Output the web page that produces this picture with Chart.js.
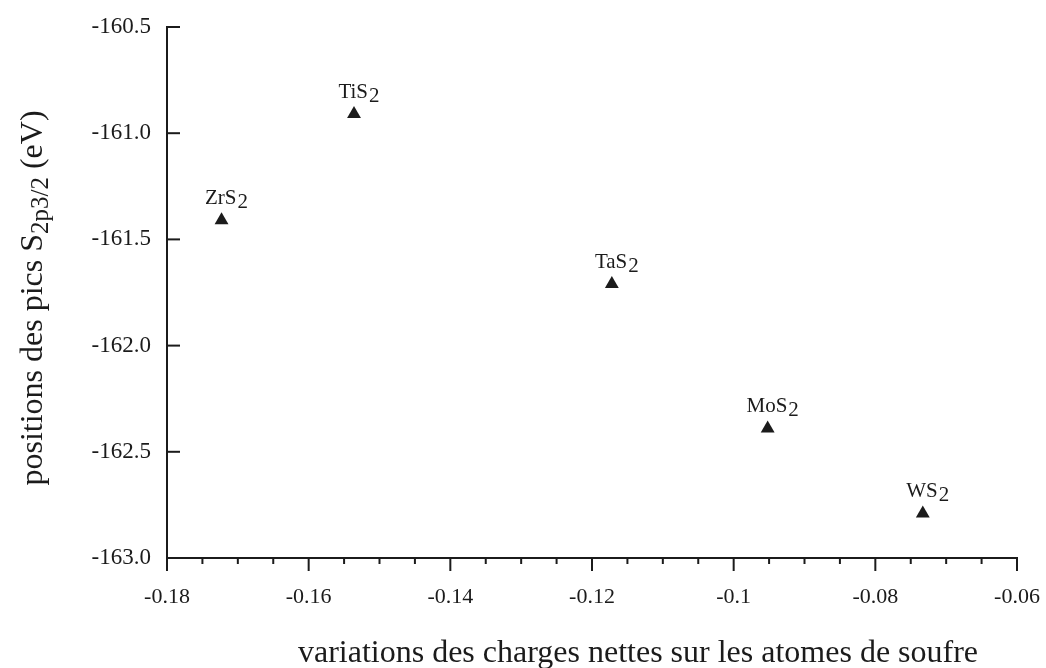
<!DOCTYPE html>
<html>
<head>
<meta charset="utf-8">
<script src="https://cdn.jsdelivr.net/npm/chart.js@4.4.1/dist/chart.umd.min.js"></script>
<style>
  html, body { margin: 0; padding: 0; background: #ffffff; }
  #wrap { width: 1046px; height: 668px; position: relative; }
</style>
</head>
<body>
<div id="wrap"><canvas id="c" width="1046" height="668"></canvas></div>
<script>
// ---- data ----
const compoundBase = ['TiS', 'ZrS', 'TaS', 'MoS', 'WS'];
const compoundSub = ['2', '2', '2', '2', '2'];
const chargeVariation = [-0.1536, -0.1723, -0.1172, -0.0952, -0.0733];
const peakPosition = [-160.91, -161.41, -161.71, -162.39, -162.79];

const xTickValues = [-0.18, -0.16, -0.14, -0.12, -0.10, -0.08, -0.06];
const xTickLabels = ['-0.18', '-0.16', '-0.14', '-0.12', '-0.1', '-0.08', '-0.06'];
const xMinorStep = 0.005;
const yTickValues = [-160.5, -161.0, -161.5, -162.0, -162.5, -163.0];
const yTickLabels = ['-160.5', '-161.0', '-161.5', '-162.0', '-162.5', '-163.0'];

const xTitle = 'variations des charges nettes sur les atomes de soufre';
const yTitleMain = 'positions des pics S';
const yTitleSub = '2p3/2';
const yTitleEnd = ' (eV)';

const SERIF = '"Liberation Serif", "Times New Roman", "DejaVu Serif", serif';
const INK = '#1b1b1b';

const drawPlugin = {
  id: 'paperAxes',
  beforeDraw(chart) {
    const ctx = chart.ctx;
    ctx.save();
    ctx.fillStyle = '#ffffff';
    ctx.fillRect(0, 0, chart.width, chart.height);
    ctx.restore();
  },
  afterDraw(chart) {
    const ctx = chart.ctx;
    const xs = chart.scales.x, ys = chart.scales.y;
    const x0 = xs.getPixelForValue(xs.min), x1 = xs.getPixelForValue(xs.max);
    const y0 = ys.getPixelForValue(ys.min), y1 = ys.getPixelForValue(ys.max);
    ctx.save();
    ctx.strokeStyle = INK;
    ctx.lineWidth = 2;
    ctx.lineCap = 'square';
    // axis lines
    ctx.beginPath();
    ctx.moveTo(x0, y1); ctx.lineTo(x0, y0); ctx.lineTo(x1, y0);
    ctx.stroke();
    // y ticks (inward)
    ctx.lineCap = 'butt';
    yTickValues.forEach(v => {
      const p = ys.getPixelForValue(v);
      ctx.beginPath(); ctx.moveTo(x0, p); ctx.lineTo(x0 + 13, p); ctx.stroke();
    });
    // x ticks (outward), major and minor
    const n = Math.round((xs.max - xs.min) / xMinorStep);
    for (let i = 0; i <= n; i++) {
      const v = xs.min + i * xMinorStep;
      const p = xs.getPixelForValue(v);
      const len = (i % 4 === 0) ? 13 : 6;
      ctx.beginPath(); ctx.moveTo(p, y0); ctx.lineTo(p, y0 + len); ctx.stroke();
    }
    // point labels with subscripts
    const meta = chart.getDatasetMeta(0);
    const fLab = '21px ' + SERIF;
    meta.data.forEach((pt, i) => {
      const base = compoundBase[i], sub = compoundSub[i];
      ctx.font = fLab;
      const wb = ctx.measureText(base).width;
      const ws = ctx.measureText(sub).width;
      const total = wb + ws + 1;
      const left = pt.x + 5 - total / 2;
      const baseY = pt.y - 16;
      ctx.fillStyle = INK;
      ctx.textAlign = 'left';
      ctx.textBaseline = 'alphabetic';
      ctx.fillText(base, left, baseY);
      ctx.fillText(sub, left + wb + 1, baseY + 4);
    });
    // x title
    ctx.font = '32px ' + SERIF;
    ctx.textAlign = 'center';
    ctx.textBaseline = 'alphabetic';
    ctx.fillText(xTitle, 638, 662);
    // y title (rotated, with subscript)
    ctx.save();
    ctx.translate(42, 298);
    ctx.rotate(-Math.PI / 2);
    const fMain = '32px ' + SERIF, fSub = '25px ' + SERIF;
    ctx.font = fMain; const w1 = ctx.measureText(yTitleMain).width;
    ctx.font = fSub; const w2 = ctx.measureText(yTitleSub).width;
    ctx.font = fMain; const w3 = ctx.measureText(yTitleEnd).width;
    let cx = -(w1 + w2 + w3) / 2;
    ctx.textAlign = 'left';
    ctx.font = fMain; ctx.fillText(yTitleMain, cx, 0); cx += w1;
    ctx.font = fSub; ctx.fillText(yTitleSub, cx, 6); cx += w2;
    ctx.font = fMain; ctx.fillText(yTitleEnd, cx, 0);
    ctx.restore();
    ctx.restore();
  }
};

new Chart(document.getElementById('c'), {
  type: 'scatter',
  data: {
    datasets: [{
      label: 'S2p3/2',
      data: chargeVariation.map((x, i) => ({ x, y: peakPosition[i] })),
      pointStyle: 'triangle',
      pointRadius: 8,
      pointHoverRadius: 8,
      backgroundColor: INK,
      borderColor: INK,
      borderWidth: 0
    }]
  },
  options: {
    responsive: false,
    animation: false,
    devicePixelRatio: 1,
    events: [],
    layout: { padding: { top: 27, right: 29, left: 0, bottom: 0 } },
    plugins: { legend: { display: false }, tooltip: { enabled: false } },
    scales: {
      x: {
        type: 'linear',
        min: xTickValues[0],
        max: xTickValues[xTickValues.length - 1],
        grid: { display: false, drawTicks: false },
        border: { display: false },
        afterBuildTicks: (s) => { s.ticks = xTickValues.map(v => ({ value: v })); },
        afterFit: (s) => { s.height = 110; s.paddingLeft = 0; s.paddingRight = 0; },
        ticks: {
          color: INK,
          font: { family: SERIF, size: 22 },
          padding: 26,
          maxRotation: 0,
          autoSkip: false,
          callback: (v, i) => xTickLabels[i]
        }
      },
      y: {
        type: 'linear',
        min: yTickValues[yTickValues.length - 1],
        max: yTickValues[0],
        grid: { display: false, drawTicks: false },
        border: { display: false },
        afterBuildTicks: (s) => { s.ticks = yTickValues.slice().reverse().map(v => ({ value: v })); },
        afterFit: (s) => { s.width = 167; s.paddingTop = 0; s.paddingBottom = 0; },
        ticks: {
          color: INK,
          font: { family: SERIF, size: 23 },
          padding: 16,
          autoSkip: false,
          callback: (v, i, arr) => yTickLabels[yTickValues.indexOf(arr[i].value)]
        }
      }
    }
  },
  plugins: [drawPlugin]
});
</script>
</body>
</html>
